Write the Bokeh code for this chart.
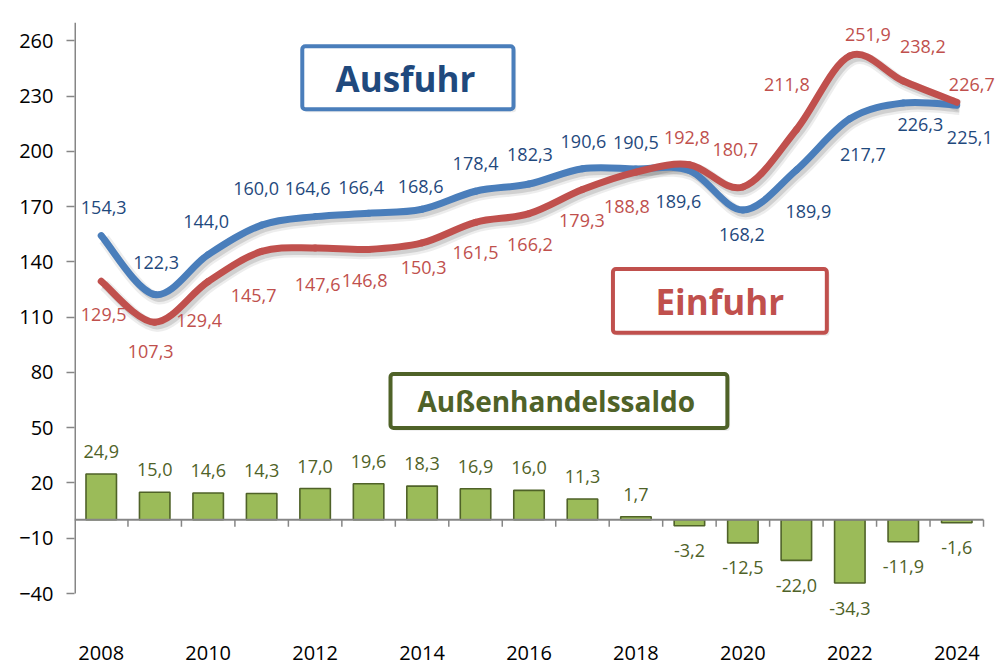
from bokeh.plotting import figure
from bokeh.models import ColumnDataSource, LabelSet, Label, BoxAnnotation, FixedTicker, Range1d
from bokeh.core.properties import value
from bokeh.embed import file_html
from bokeh.resources import INLINE

# ---------------- data ----------------
years = list(range(2008, 2025))
ausfuhr = [154.3, 122.3, 144.0, 160.0, 164.6, 166.4, 168.6, 178.4, 182.3, 190.6, 190.5, 189.6, 168.2, 189.9, 217.7, 226.3, 225.1]
einfuhr = [129.5, 107.3, 129.4, 145.7, 147.6, 146.8, 150.3, 161.5, 166.2, 179.3, 188.8, 192.8, 180.7, 211.8, 251.9, 238.2, 226.7]
saldo = [24.9, 15.0, 14.6, 14.3, 17.0, 19.6, 18.3, 16.9, 16.0, 11.3, 1.7, -3.2, -12.5, -22.0, -34.3, -11.9, -1.6]
year_ticks = [2008, 2010, 2012, 2014, 2016, 2018, 2020, 2022, 2024]
y_ticks = [-40, -10, 20, 50, 80, 110, 140, 170, 200, 230, 260]
Y_MIN, Y_MAX = -40, 270

# label placement (screen px, positive dy = up)
aus_dx = [2.5, 1.5, -2, -5.5, -7.5, -7.5, -1.5, 0, 1, 1, 0, -11, -1, 12, 13, 17, 13]
aus_dy = [28, 32, 33.5, 37, 28, 26, 23, 28, 29.5, 27.5, 26, -30.5, -24.5, -41, -35.5, -21.5, -32.5]
ein_dx = [2.5, -4, -9, -8, 2.5, -4, 1.5, 0, 1, -0.5, -9, -2.5, -7.5, -9.5, 18, 19.5, 15]
ein_dy = [-33, -29, -39.5, -44.5, -36.5, -31.5, -25, -30.5, -30.5, -31, -34, 27, 37.5, 45, 21.5, 35, 18]

BLUE = "#4a7ebb"
BLUE_TXT = "#1f497d"
RED = "#c0504d"
GREEN = "#9bbb59"
GREEN_DK = "#4f6228"
AXIS = "#868686"
FONT = "Open Sans"

X_START, X_END = years[0] - 0.5, years[-1] + 0.5
PX_X = 909 / 17            # px per category
PX_Y = 571 / (Y_MAX - Y_MIN)  # px per unit
EXTRA_R, EXTRA_B = 16, 27  # frame extension so labels are not clipped


def fmt(v):
    return f"{v:.1f}".replace(".", ",")


def bezier_source(xs, ys, dx=0.0, dy=0.0):
    n = len(xs)
    d = dict(x0=[], y0=[], x1=[], y1=[], cx0=[], cy0=[], cx1=[], cy1=[])
    for i in range(n - 1):
        p0 = (xs[max(i - 1, 0)], ys[max(i - 1, 0)])
        p1 = (xs[i], ys[i])
        p2 = (xs[i + 1], ys[i + 1])
        p3 = (xs[min(i + 2, n - 1)], ys[min(i + 2, n - 1)])
        d["x0"].append(p1[0] + dx); d["y0"].append(p1[1] + dy)
        d["x1"].append(p2[0] + dx); d["y1"].append(p2[1] + dy)
        d["cx0"].append(p1[0] + (p2[0] - p0[0]) / 6 + dx)
        d["cy0"].append(p1[1] + (p2[1] - p0[1]) / 6 + dy)
        d["cx1"].append(p2[0] - (p3[0] - p1[0]) / 6 + dx)
        d["cy1"].append(p2[1] - (p3[1] - p1[1]) / 6 + dy)
    return ColumnDataSource(d)


p = figure(frame_width=909 + EXTRA_R, frame_height=571 + EXTRA_B,
           x_range=Range1d(X_START, X_END + EXTRA_R / PX_X),
           y_range=Range1d(Y_MIN - EXTRA_B / PX_Y, Y_MAX),
           output_backend="svg", toolbar_location=None,
           min_border_left=74, min_border_right=0, min_border_top=22, min_border_bottom=46)
p.outline_line_color = None
p.grid.visible = False
p.background_fill_color = "white"
p.border_fill_color = "white"

# y axis (line drawn separately so it stops at -40)
p.yaxis.ticker = FixedTicker(ticks=y_ticks)
p.yaxis.minor_tick_line_color = None
p.yaxis.major_tick_in = 0
p.yaxis.major_tick_out = 8
p.yaxis.axis_line_color = None
p.yaxis.major_tick_line_color = AXIS
p.yaxis.major_tick_line_width = 1.5
p.yaxis.major_label_text_font = FONT
p.yaxis.major_label_text_font_size = "20px"
p.yaxis.major_label_text_color = "#000000"
p.yaxis.major_label_standoff = 13
p.segment(x0=[X_START], y0=[Y_MIN], x1=[X_START], y1=[Y_MAX], line_color=AXIS, line_width=3)

# x axis (labels only, at the bottom)
p.xaxis.ticker = FixedTicker(ticks=year_ticks)
p.xaxis.axis_line_color = None
p.xaxis.major_tick_line_color = None
p.xaxis.minor_tick_line_color = None
p.xaxis.major_tick_out = 0
p.xaxis.major_tick_in = 0
p.xaxis.major_label_standoff = 25
p.xaxis.major_label_text_font = FONT
p.xaxis.major_label_text_font_size = "20px"
p.xaxis.major_label_text_color = "#000000"

# bars
bar_src = ColumnDataSource(dict(x=years, top=saldo, t=[fmt(v) for v in saldo],
                                dy=[22.5 if v >= 0 else -25 for v in saldo]))
p.vbar(x="x", top="top", bottom=0, width=0.57, source=bar_src,
       fill_color=GREEN, line_color=GREEN_DK, line_width=1.6)

# zero line and category ticks
p.segment(x0=[X_START], y0=[0], x1=[X_END], y1=[0], line_color=AXIS, line_width=2)
bounds = [y + 0.5 for y in years]
p.segment(x0=bounds, y0=[0] * len(bounds), x1=bounds, y1=[-7 / PX_Y] * len(bounds),
          line_color=AXIS, line_width=1.5)

# lines with soft shadow
for vals in (ausfuhr, einfuhr):
    sh = bezier_source(years, vals, dx=2.7 / PX_X, dy=-3.7 / PX_Y)
    p.bezier(x0="x0", y0="y0", x1="x1", y1="y1", cx0="cx0", cy0="cy0", cx1="cx1", cy1="cy1",
             source=sh, line_color="#000000", line_alpha=0.07, line_width=12, line_cap="butt")
    p.bezier(x0="x0", y0="y0", x1="x1", y1="y1", cx0="cx0", cy0="cy0", cx1="cx1", cy1="cy1",
             source=sh, line_color="#000000", line_alpha=0.12, line_width=7, line_cap="butt")
for vals, col in ((ausfuhr, BLUE), (einfuhr, RED)):
    src = bezier_source(years, vals)
    p.bezier(x0="x0", y0="y0", x1="x1", y1="y1", cx0="cx0", cy0="cy0", cx1="cx1", cy1="cy1",
             source=src, line_color=col, line_width=7, line_cap="round")

# data labels
aus_src = ColumnDataSource(dict(x=years, y=ausfuhr, t=[fmt(v) for v in ausfuhr], dx=aus_dx, dy=aus_dy))
ein_src = ColumnDataSource(dict(x=years, y=einfuhr, t=[fmt(v) for v in einfuhr], dx=ein_dx, dy=ein_dy))
for src, col in ((aus_src, BLUE_TXT), (ein_src, RED)):
    p.add_layout(LabelSet(x="x", y="y", text="t", x_offset="dx", y_offset="dy", source=src,
                          text_font=value(FONT), text_font_size=value("18px"), text_color=col,
                          text_align="center", text_baseline="middle"))
p.add_layout(LabelSet(x="x", y="top", text="t", x_offset=0, y_offset="dy", source=bar_src,
                      text_font=value(FONT), text_font_size=value("18px"), text_color=GREEN_DK,
                      text_align="center", text_baseline="middle"))

# title boxes
boxes = [
    ("Ausfuhr", 2011.76, 2015.71, 222.9, 257.1, 2013.69, 239.8, BLUE, "#1f497d", "35px"),
    ("Einfuhr", 2017.57, 2021.57, 101.5, 136.2, 2019.57, 118.8, RED, RED, "35px"),
    ("Außenhandelssaldo", 2013.41, 2019.71, 49.9, 79.2, 2016.51, 64.5, GREEN_DK, GREEN_DK, "28px"),
]
for txt, l, r, b, t, tx, ty, lc, tc, fs in boxes:
    p.add_layout(BoxAnnotation(left=l + 0.05, right=r + 0.05, bottom=b - 1.6, top=t - 1.6,
                               fill_color="#000000", fill_alpha=0.08, line_color=None,
                               border_radius=3))
    p.add_layout(BoxAnnotation(left=l, right=r, bottom=b, top=t, fill_color="white", fill_alpha=1,
                               line_color=lc, line_alpha=1, line_width=4, border_radius=3))
    p.add_layout(Label(x=tx, y=ty, text=txt, text_font=FONT, text_font_size=fs,
                       text_font_style="bold", text_color=tc,
                       text_align="center", text_baseline="middle"))

open("out.html", "w").write(file_html(p, INLINE))
